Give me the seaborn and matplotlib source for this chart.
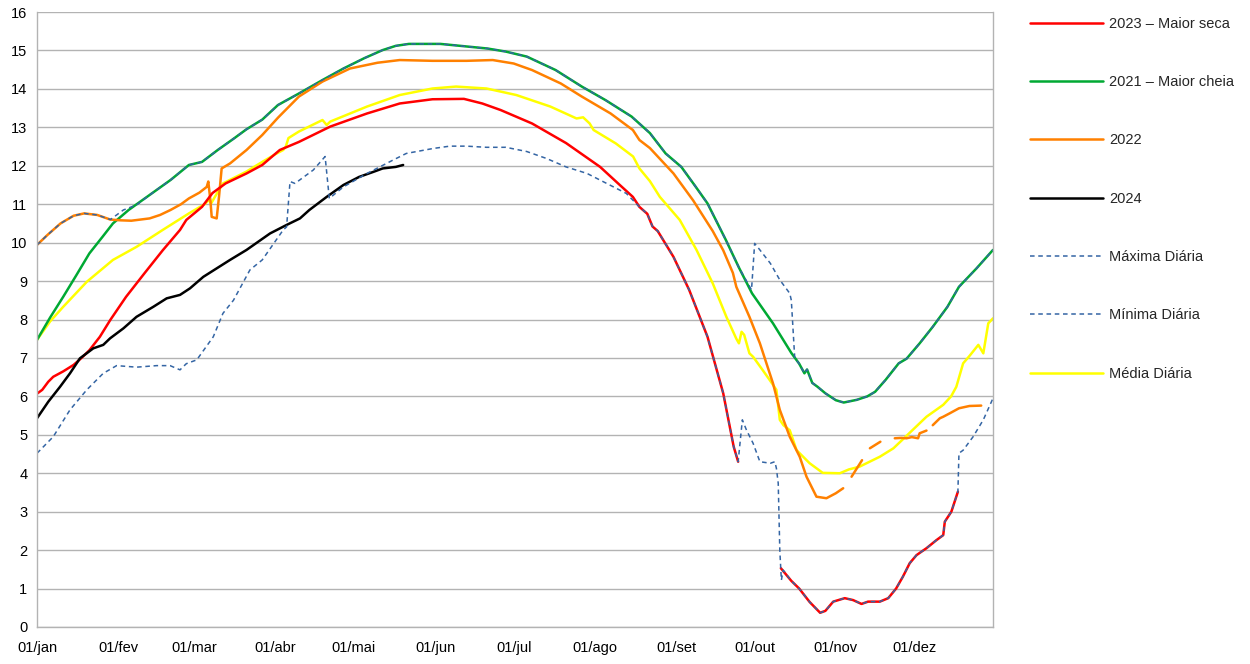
import numpy as np
import pandas as pd
import matplotlib
matplotlib.use("Agg")
import matplotlib.pyplot as plt
from matplotlib.lines import Line2D
import seaborn as sns

# ---------------- data (day of year, value) ----------------
nan = np.nan

month_ticks = [0, 31, 60, 91, 121, 152, 182, 213, 244, 274, 305, 335]
month_labels = ["01/jan", "01/fev", "01/mar", "01/abr", "01/mai", "01/jun",
                "01/jul", "01/ago", "01/set", "01/out", "01/nov", "01/dez"]
y_ticks = list(range(0, 17))

red_days = [0, 2, 4.3, 6.2, 10, 14, 17, 20, 24, 28, 34, 41, 48, 54.6, 57, 63, 67, 72, 80, 86,
            92.7, 100, 112, 126, 138.5, 151, 163, 170, 177, 189, 202, 215, 222.5, 227.5, 230,
            233, 235, 237, 243, 249, 256, 262, 266, 267.7,
            nan,
            284, 288, 291, 295, 299, 301, 304, 308.4, 311.6, 314.8, 317.3, 321.8, 325, 328,
            330.6, 333.2, 335.8, 339.6, 343.4, 346, 346.6, 349.1, 351.6]
red_vals = [6.07, 6.17, 6.38, 6.51, 6.65, 6.82, 7.0, 7.2, 7.55, 7.99, 8.59, 9.2, 9.8, 10.33, 10.59,
            10.93, 11.29, 11.54, 11.8, 12.02, 12.41, 12.62, 13.02, 13.36, 13.62, 13.73, 13.74,
            13.62, 13.45, 13.1, 12.59, 11.97, 11.5, 11.19, 10.93, 10.75, 10.42, 10.3, 9.63,
            8.77, 7.55, 6.08, 4.69, 4.30,
            nan,
            1.53, 1.2, 1.0, 0.65, 0.37, 0.42, 0.66, 0.75, 0.70, 0.6, 0.66, 0.66, 0.75, 1.0,
            1.31, 1.66, 1.87, 2.05, 2.26, 2.39, 2.74, 3.0, 3.52]

green_days = [0, 5, 10, 15, 20, 25, 29, 35, 43, 51, 58, 63, 69, 75, 80, 86, 92, 100, 109, 117,
              125, 132, 137, 142, 154, 163, 172, 179, 187, 198, 208, 217, 227, 234, 240, 246,
              251, 256, 263, 268, 273, 281, 288, 291, 293, 294, 296, 298, 301, 305, 308, 313,
              317, 320, 324, 329, 332, 337, 342, 347.6, 352, 358.7, 365]
green_vals = [7.47, 8.05, 8.59, 9.15, 9.72, 10.15, 10.5, 10.85, 11.24, 11.63, 12.02, 12.1, 12.41,
              12.7, 12.95, 13.2, 13.58, 13.88, 14.23, 14.53, 14.8, 15.01, 15.12, 15.17, 15.17,
              15.11, 15.05, 14.97, 14.84, 14.49, 14.06, 13.71, 13.28, 12.85, 12.32, 11.97,
              11.5, 11.02, 10.07, 9.35, 8.68, 7.9, 7.13, 6.85, 6.6, 6.7, 6.35, 6.25, 6.08,
              5.9, 5.84, 5.91, 6.0, 6.12, 6.43, 6.86, 6.98, 7.38, 7.81, 8.33, 8.85, 9.33, 9.81]

orange_days = [0, 4, 9, 14, 18, 23, 28, 32, 36, 43, 47, 51, 55, 58, 62, 64.8, 65.4, 66.2, 66.7,
               68.6, 69.5, 70.5, 73.7, 80, 86, 92, 100, 109, 119.5, 130, 138.5, 151, 164, 174,
               182, 189, 200, 208, 219, 227.5, 230, 234, 243, 250.5, 258, 262, 265.7, 267, 272,
               276, 278.5, 281, 283.6, 287.4, 291.2, 293.8, 297.6, 301.4, 305, 307.8,
               nan, 311, 315,
               nan, 318, 322,
               nan, 327.5, 330, 332, 334, 336.4, 337, 339.6,
               nan, 342, 344.7, 346, 348.5, 352, 356, 360.5]
orange_vals = [9.94, 10.2, 10.5, 10.7, 10.76, 10.72, 10.6, 10.58, 10.57, 10.63, 10.72, 10.85,
               11.0, 11.15, 11.3, 11.45, 11.59, 11.1, 10.67, 10.63, 11.2, 11.93, 12.06, 12.41,
               12.8, 13.25, 13.8, 14.19, 14.53, 14.68, 14.75, 14.73, 14.73, 14.75, 14.66, 14.49,
               14.14, 13.8, 13.36, 12.93, 12.67, 12.46, 11.8, 11.1, 10.3, 9.8, 9.21, 8.85, 8.07,
               7.38, 6.86, 6.34, 5.65, 4.95, 4.43, 3.91, 3.39, 3.35, 3.48, 3.61,
               nan, 3.91, 4.34,
               nan, 4.65, 4.82,
               nan, 4.91, 4.92, 4.91, 4.94, 4.91, 5.04, 5.11,
               nan, 5.25, 5.43, 5.47, 5.56, 5.69, 5.75, 5.76]

black_days = [0, 4.3, 8.8, 12.6, 16.4, 21.5, 25.3, 27.9, 33, 38, 44.4, 49.5, 54.6, 58.4, 63.5,
              68.6, 73.7, 80, 89, 95.3, 100.4, 104, 110.6, 117, 123, 128.4, 132, 137, 139.8]
black_vals = [5.43, 5.86, 6.25, 6.6, 6.99, 7.25, 7.34, 7.51, 7.77, 8.07, 8.33, 8.55, 8.64, 8.81,
              9.11, 9.33, 9.55, 9.81, 10.24, 10.46, 10.63, 10.85, 11.19, 11.5, 11.71, 11.84,
              11.93, 11.97, 12.02]

max_days = [0, 4, 9, 14, 18, 23, 28, 33, 38, 43, 51, 58, 63, 69, 75, 80, 86, 92, 100, 109, 117,
            125, 132, 137, 142, 154, 163, 172, 179, 187, 198, 208, 217, 227, 234, 240, 246,
            251, 256, 263, 268, 272.8, 274, 276, 280, 283.6, 287.4, 288, 289.3, 291, 293, 294,
            296, 298, 301, 305, 308, 313, 317, 320, 324, 329, 332, 337, 342, 347.6, 352,
            358.7, 365]
max_vals = [9.94, 10.2, 10.5, 10.7, 10.76, 10.72, 10.6, 10.85, 10.98, 11.24, 11.63, 12.02, 12.1,
            12.41, 12.7, 12.95, 13.2, 13.58, 13.88, 14.23, 14.53, 14.8, 15.01, 15.12, 15.17,
            15.17, 15.11, 15.05, 14.97, 14.84, 14.49, 14.06, 13.71, 13.28, 12.85, 12.32, 11.97,
            11.5, 11.02, 10.07, 9.35, 8.77, 9.98, 9.81, 9.46, 9.03, 8.68, 8.5, 7.0, 6.85, 6.6,
            6.7, 6.35, 6.25, 6.08, 5.9, 5.84, 5.91, 6.0, 6.12, 6.43, 6.86, 6.98, 7.38, 7.81,
            8.33, 8.85, 9.33, 9.81]

min_days = [0, 6.2, 12.6, 19, 25.3, 30.4, 38, 45.7, 50.8, 54.6, 57, 61, 67.3, 71, 75, 81.3, 86,
            94, 95.3, 96.6, 98.5, 105.5, 110, 111.6, 117, 126, 136, 141, 151.3, 157.6, 164,
            171.6, 179, 187, 194.5, 202, 210, 217.5, 225, 230, 233, 235, 237, 243, 249, 256,
            262, 266, 267.7, 269.3, 270.9, 273.4, 276, 280, 281.7, 282.3, 283, 283.6, 284.2,
            284.9, 288, 291, 295, 299, 301, 304, 308.4, 311.6, 314.8, 317.3, 321.8, 325, 328,
            330.6, 333.2, 335.8, 339.6, 343.4, 346, 346.6, 349.1, 351.6, 352, 353.6, 357.4,
            361.3, 365]
min_vals = [4.52, 4.95, 5.65, 6.17, 6.6, 6.8, 6.76, 6.8, 6.8, 6.69, 6.85, 6.95, 7.55, 8.16, 8.5,
            9.29, 9.55, 10.33, 10.41, 11.59, 11.54, 11.89, 12.24, 11.15, 11.45, 11.8, 12.15,
            12.32, 12.45, 12.51, 12.51, 12.48, 12.48, 12.37, 12.19, 11.97, 11.8, 11.54, 11.28,
            10.93, 10.75, 10.42, 10.3, 9.63, 8.77, 7.55, 6.08, 4.69, 4.30, 5.39, 5.12, 4.78,
            4.3, 4.26, 4.3, 4.13, 3.74, 2.0, 1.22, 1.48, 1.2, 1.0, 0.65, 0.37, 0.42, 0.66,
            0.75, 0.70, 0.6, 0.66, 0.66, 0.75, 1.0, 1.31, 1.66, 1.87, 2.05, 2.26, 2.39, 2.74,
            3.0, 3.52, 4.52, 4.6, 4.95, 5.39, 5.95]

avg_days = [0, 5, 10, 19, 29, 38, 48, 58, 64, 65.5, 66.5, 68, 71, 80, 86, 91, 94, 95, 96, 100,
            109, 110.6, 112, 126, 138.5, 151, 160, 171.6, 183, 196, 206, 208.5, 211, 212.5,
            221, 227.6, 230, 234, 237.8, 245.4, 251.8, 258, 263.2, 267, 268, 269, 270, 272,
            273.4, 277, 280, 282.3, 283.6, 285, 287.4, 290, 295, 300, 306.5, 310, 314, 316.7,
            321.8, 327, 333, 339.6, 346, 349, 351, 353.6, 356, 359.4, 361.3, 363.2, 365]
avg_vals = [7.47, 7.95, 8.33, 8.98, 9.55, 9.89, 10.33, 10.76, 11.0, 11.11, 11.02, 11.2, 11.54,
            11.85, 12.1, 12.3, 12.41, 12.5, 12.72, 12.89, 13.19, 13.06, 13.15, 13.54, 13.84,
            14.01, 14.06, 14.01, 13.84, 13.54, 13.23, 13.26, 13.1, 12.93, 12.58, 12.24, 11.93,
            11.6, 11.19, 10.59, 9.81, 8.94, 8.07, 7.5, 7.38, 7.68, 7.6, 7.12, 7.03, 6.69, 6.4,
            6.17, 5.39, 5.25, 5.12, 4.6, 4.26, 4.01, 4.0, 4.1, 4.17, 4.26, 4.43, 4.65, 5.04,
            5.47, 5.78, 6.0, 6.25, 6.86, 7.05, 7.34, 7.12, 7.9, 8.03]

labels = ["2023 – Maior seca", "2021 – Maior cheia", "2022", "2024",
          "Máxima Diária", "Mínima Diária", "Média Diária"]

# ---------------- style ----------------
sns.set_style("white")
plt.rcParams["font.family"] = ["Liberation Sans", "DejaVu Sans"]

C_RED = "#ff0000"
C_GREEN = "#00a933"
C_ORANGE = "#ff8000"
C_BLACK = "#000000"
C_YELLOW = "#ffff00"
C_BLUE = "#3465a4"
GRID = "#b3b3b3"

fig = plt.figure(figsize=(12.5, 6.64), dpi=100)
ax = fig.add_axes([37 / 1250, 37 / 664, 956 / 1250, 615 / 664])


def draw(days, vals, **kw):
    df = pd.DataFrame({"d": days, "v": vals})
    seg = df["v"].isna().cumsum()
    for _, part in df[df["v"].notna()].groupby(seg[df["v"].notna()]):
        sns.lineplot(data=part, x="d", y="v", ax=ax, estimator=None, sort=False,
                     legend=False, **kw)


SOLID_LW = 1.8
draw(avg_days, avg_vals, color=C_YELLOW, linewidth=SOLID_LW)
draw(green_days, green_vals, color=C_GREEN, linewidth=SOLID_LW)
draw(orange_days, orange_vals, color=C_ORANGE, linewidth=SOLID_LW)
draw(red_days, red_vals, color=C_RED, linewidth=SOLID_LW)
draw(black_days, black_vals, color=C_BLACK, linewidth=SOLID_LW)
dash = (0, (3, 2.4))
draw(max_days, max_vals, color=C_BLUE, linewidth=1.1, linestyle=dash)
draw(min_days, min_vals, color=C_BLUE, linewidth=1.1, linestyle=dash)

ax.set_xlim(0, 365)
ax.set_ylim(0, 16)
ax.set_xticks(month_ticks)
ax.set_xticklabels(month_labels)
ax.set_yticks(y_ticks)
ax.set_yticklabels([str(t) for t in y_ticks])
ax.set_xlabel("")
ax.set_ylabel("")
ax.grid(axis="y", color=GRID, linewidth=1.0)
ax.grid(axis="x", visible=False)
ax.set_axisbelow(True)
for s in ["left", "bottom", "right"]:
    ax.spines[s].set_color(GRID)
    ax.spines[s].set_linewidth(1.0)
ax.spines["top"].set_visible(False)
ax.tick_params(axis="both", which="both", length=4, color=GRID, labelsize=10.5,
               labelcolor="#000000", direction="out", pad=3)
ax.tick_params(axis="x", pad=14)
for lab in ax.get_xticklabels():
    lab.set_verticalalignment("baseline")

handles = [
    Line2D([], [], color=C_RED, linewidth=SOLID_LW),
    Line2D([], [], color=C_GREEN, linewidth=SOLID_LW),
    Line2D([], [], color=C_ORANGE, linewidth=SOLID_LW),
    Line2D([], [], color=C_BLACK, linewidth=SOLID_LW),
    Line2D([], [], color=C_BLUE, linewidth=1.1, linestyle=dash),
    Line2D([], [], color=C_BLUE, linewidth=1.1, linestyle=dash),
    Line2D([], [], color=C_YELLOW, linewidth=SOLID_LW),
]
fig.legend(handles, labels, loc="upper left", bbox_to_anchor=(1024 / 1250, 1 - 11 / 664),
           frameon=False, fontsize=10.5, handlelength=5.0, handletextpad=0.45,
           labelspacing=3.04, borderaxespad=0)

fig.savefig("out.png", dpi=100)
